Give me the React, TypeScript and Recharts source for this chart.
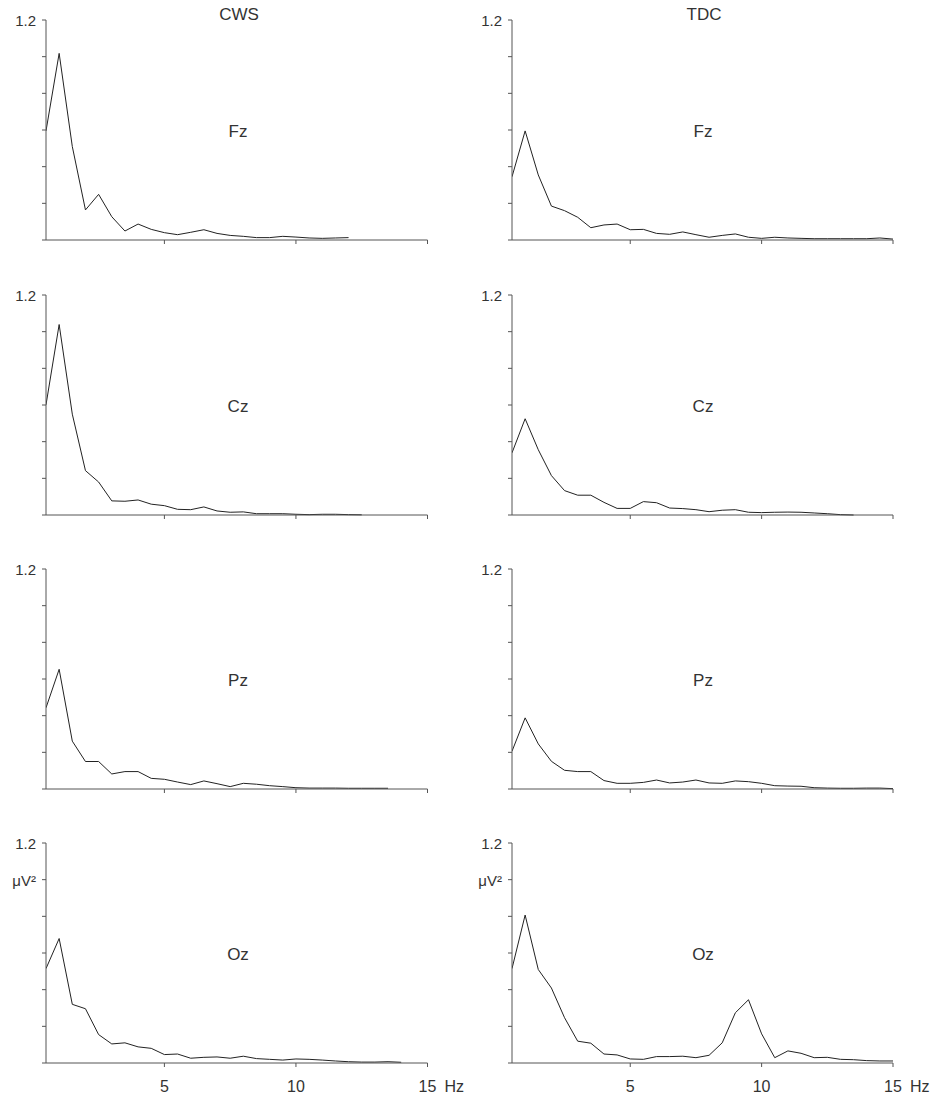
import React from 'react';
import { LineChart, Line, XAxis, YAxis } from 'recharts';

const FREQS = [0.5, 1, 1.5, 2, 2.5, 3, 3.5, 4, 4.5, 5, 5.5, 6, 6.5, 7, 7.5, 8, 8.5, 9, 9.5, 10, 10.5, 11, 11.5, 12, 12.5, 13, 13.5, 14, 14.5, 15];
const X_TICKS = [5, 10, 15];
const Y_TICKS = [0, 0.2, 0.4, 0.6, 0.8, 1.0, 1.2];
const GROUPS = ['CWS', 'TDC'];
const ELECTRODES = ['Fz', 'Cz', 'Pz', 'Oz'];

const CWS_FZ = [0.595, 1.018, 0.51, 0.164, 0.249, 0.127, 0.049, 0.087, 0.058, 0.04, 0.029, 0.042, 0.056, 0.036, 0.025, 0.02, 0.013, 0.013, 0.02, 0.016, 0.011, 0.009, 0.011, 0.013];
const TDC_FZ = [0.345, 0.595, 0.355, 0.185, 0.16, 0.124, 0.067, 0.082, 0.087, 0.056, 0.058, 0.036, 0.031, 0.044, 0.029, 0.015, 0.025, 0.033, 0.015, 0.009, 0.015, 0.011, 0.009, 0.007, 0.007, 0.007, 0.007, 0.007, 0.011, 0.005];
const CWS_CZ = [0.601, 1.039, 0.55, 0.242, 0.18, 0.077, 0.075, 0.082, 0.059, 0.051, 0.031, 0.029, 0.044, 0.022, 0.015, 0.017, 0.007, 0.007, 0.007, 0.004, 0.002, 0.004, 0.004, 0.002, 0.001];
const TDC_CZ = [0.339, 0.525, 0.356, 0.215, 0.133, 0.108, 0.108, 0.069, 0.036, 0.036, 0.073, 0.067, 0.038, 0.035, 0.029, 0.018, 0.026, 0.029, 0.015, 0.013, 0.015, 0.016, 0.015, 0.011, 0.007, 0.002, 0];
const CWS_PZ = [0.443, 0.653, 0.261, 0.15, 0.15, 0.082, 0.095, 0.095, 0.058, 0.053, 0.038, 0.024, 0.044, 0.029, 0.013, 0.031, 0.026, 0.018, 0.013, 0.007, 0.005, 0.005, 0.005, 0.004, 0.004, 0.004, 0.004];
const TDC_PZ = [0.206, 0.388, 0.246, 0.151, 0.102, 0.095, 0.095, 0.046, 0.031, 0.031, 0.036, 0.049, 0.033, 0.038, 0.049, 0.033, 0.031, 0.044, 0.04, 0.031, 0.018, 0.016, 0.015, 0.007, 0.005, 0.004, 0.004, 0.005, 0.005, 0.002];
const CWS_OZ = [0.515, 0.679, 0.32, 0.296, 0.155, 0.104, 0.11, 0.088, 0.08, 0.046, 0.049, 0.026, 0.031, 0.033, 0.026, 0.037, 0.024, 0.02, 0.016, 0.022, 0.02, 0.016, 0.011, 0.007, 0.005, 0.005, 0.007, 0.004];
const TDC_OZ = [0.515, 0.807, 0.51, 0.409, 0.247, 0.119, 0.108, 0.049, 0.044, 0.022, 0.02, 0.035, 0.035, 0.037, 0.029, 0.042, 0.11, 0.274, 0.345, 0.159, 0.029, 0.066, 0.053, 0.029, 0.031, 0.02, 0.018, 0.013, 0.011, 0.011];

const SERIES = [
  [CWS_FZ, TDC_FZ],
  [CWS_CZ, TDC_CZ],
  [CWS_PZ, TDC_PZ],
  [CWS_OZ, TDC_OZ],
];

const FONT = '"Liberation Sans", Arial, Helvetica, sans-serif';
const TEXT = '#333';
const AXIS = '#555';
const LINE = '#222';

const ROW_TOPS = [20, 294.5, 568.5, 843];
const PLOT_H = 220;
const COLS = [
  { chartLeft: 0, plotLeft: 46, plotRight: 427.5, width: 470 },
  { chartLeft: 470, plotLeft: 512, plotRight: 893, width: 471 },
];

function toRows(values: number[]) {
  return values.map((v, i) => ({ f: FREQS[i], v }));
}

function Panel({ row, col }: { row: number; col: number }) {
  const c = COLS[col];
  const isBottom = row === ELECTRODES.length - 1;
  const top = ROW_TOPS[row] - 10;
  const height = 10 + PLOT_H + 40;
  const data = toRows(SERIES[row][col]);

  const xTick = (props: any) => {
    const { x, y, payload } = props;
    if (!isBottom) return <g />;
    const v = payload.value;
    return (
      <g>
        <text x={x} y={y} dy={23} textAnchor="middle" fontSize={16} fill={TEXT} fontFamily={FONT}>
          {String(v)}
        </text>
        {v === 15 ? (
          <text x={x + 17} y={y} dy={23} textAnchor="start" fontSize={16} fill={TEXT} fontFamily={FONT}>
            Hz
          </text>
        ) : null}
      </g>
    );
  };

  const yTick = (props: any) => {
    const { x, y, payload } = props;
    const v = payload.value;
    let label = '';
    if (Math.abs(v - 1.2) < 1e-6) label = '1.2';
    else if (isBottom && Math.abs(v - 1.0) < 1e-6) label = 'μV²';
    if (!label) return <g />;
    return (
      <text x={x} y={y} dy={6} textAnchor="end" fontSize={15} fill={TEXT} fontFamily={FONT}>
        {label}
      </text>
    );
  };

  return (
    <div style={{ position: 'absolute', left: c.chartLeft, top, width: c.width, height }}>
      <LineChart
        width={c.width}
        height={height}
        data={data}
        margin={{ top: 10, right: c.width - (c.plotRight - c.chartLeft), bottom: 0, left: 0 }}
      >
        <XAxis
          dataKey="f"
          type="number"
          domain={[0.5, 15]}
          ticks={X_TICKS}
          allowDataOverflow
          stroke={AXIS}
          tickSize={4}
          tickLine={{ stroke: AXIS }}
          axisLine={{ stroke: AXIS }}
          height={40}
          tick={xTick}
          interval={0}
        />
        <YAxis
          type="number"
          domain={[0, 1.2]}
          ticks={Y_TICKS}
          width={c.plotLeft - c.chartLeft}
          stroke={AXIS}
          tickSize={4}
          tickMargin={6}
          tickLine={{ stroke: AXIS }}
          axisLine={{ stroke: AXIS }}
          tick={yTick}
          interval={0}
        />
        <Line
          type="linear"
          dataKey="v"
          stroke={LINE}
          strokeWidth={1}
          dot={false}
          activeDot={false}
          isAnimationActive={false}
        />
      </LineChart>
    </div>
  );
}

const labelStyle: React.CSSProperties = {
  position: 'absolute',
  transform: 'translate(-50%, -50%)',
  fontFamily: FONT,
  fontSize: 17,
  lineHeight: 1,
  color: TEXT,
  whiteSpace: 'nowrap',
};

export default function App() {
  const labelX = [238, 703];
  return (
    <div style={{ position: 'absolute', left: 0, top: 0, width: 941, height: 1097, background: '#fff', overflow: 'hidden' }}>
      {ELECTRODES.map((_, r) => COLS.map((_, c) => <Panel key={`${r}-${c}`} row={r} col={c} />))}
      {GROUPS.map((g, c) => (
        <div key={g} style={{ ...labelStyle, left: labelX[c] + 1, top: 14 }}>{g}</div>
      ))}
      {ELECTRODES.map((e, r) =>
        labelX.map((lx, c) => (
          <div key={`${e}-${c}`} style={{ ...labelStyle, left: lx, top: ROW_TOPS[r] + 111 }}>{e}</div>
        ))
      )}
    </div>
  );
}
